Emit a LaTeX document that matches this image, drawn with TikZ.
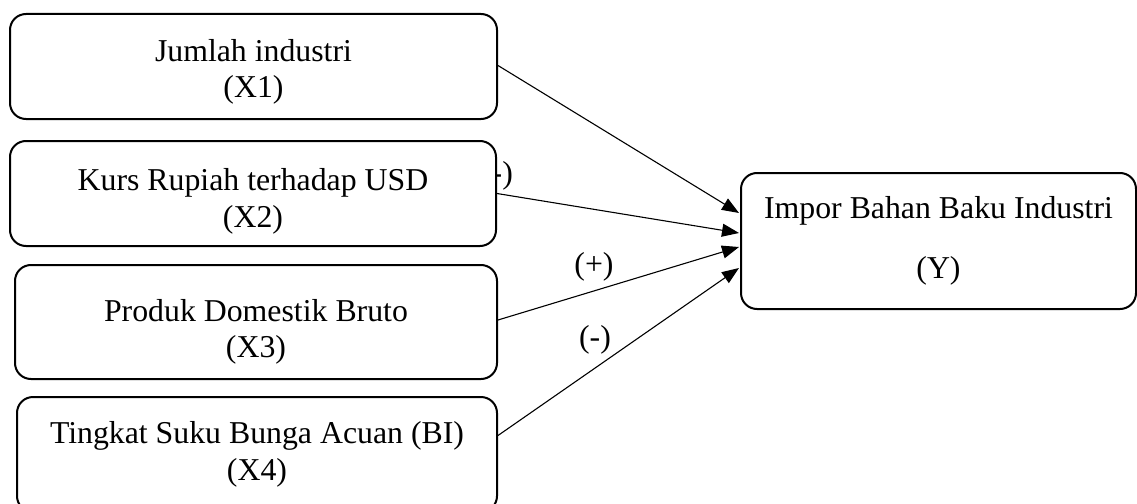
\documentclass[tikz,border=0pt]{standalone}
\usepackage{fontspec}
\setmainfont{Liberation Serif}
\usetikzlibrary{arrows.meta}
\newcommand{\toppad}[1]{\rule{0pt}{#1}}
\begin{document}
\begin{tikzpicture}[x=1pt,y=-1pt,
  varbox/.style={draw=black, line width=2pt, rounded corners=16pt, fill=white,
    align=center, inner sep=0pt, font=\fontsize{31.8}{36.6}\selectfont},
  conn/.style={line width=1.1pt, -{Triangle[length=17pt,width=13pt]}},
  sign/.style={font=\fontsize{31.8}{36.6}\selectfont, inner sep=0pt}]
\useasboundingbox (0,0) rectangle (1137,503);
\clip (0,0) rectangle (1137,503);
% label partly hidden behind box X2
\node[sign] (s2) at (497,176) {(-)};
\node[varbox, minimum width=487pt, minimum height=105pt] (b1) at (253.5,66.5) {\toppad{33pt}Jumlah industri\\(X1)};
\node[varbox, minimum width=486pt, minimum height=105pt] (b2) at (253,193.5) {\toppad{38pt}Kurs Rupiah terhadap USD\\(X2)};
\node[varbox, minimum width=482pt, minimum height=114pt] (b3) at (256,322) {\toppad{42pt}Produk Domestik Bruto\\(X3)};
\node[varbox, minimum width=480pt, minimum height=115pt] (b4) at (257,454.5) {Tingkat Suku Bunga Acuan (BI)\\(X4)};
\node[varbox, minimum width=395pt, minimum height=136pt] (y) at (938.5,241) {Impor Bahan Baku Industri\\[23pt](Y)};
\draw[conn] ([yshift=1pt]b1.east) -- ([yshift=28pt,xshift=-1pt]y.west);
\draw[conn] (b2.east) -- ([yshift=8pt,xshift=-1pt]y.west);
\draw[conn] ([yshift=2pt]b3.east) -- ([yshift=-6pt,xshift=-1pt]y.west);
\draw[conn] ([yshift=19pt]b4.east) -- ([yshift=-27pt,xshift=-1pt]y.west);
\node[sign] (s3) at (594,267) {(+)};
\node[sign] (s4) at (595,340) {(-)};
\end{tikzpicture}
\end{document}
